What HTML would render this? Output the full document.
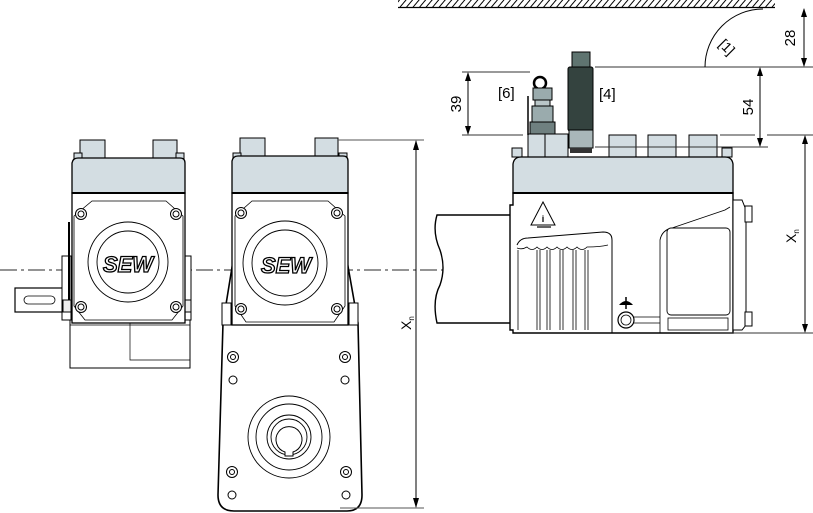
<!DOCTYPE html>
<html><head><meta charset="utf-8"><style>
html,body{margin:0;padding:0;background:#fff;}
svg{display:block;}
text{font-family:"Liberation Sans",sans-serif;fill:#000;}
</style></head><body>
<svg width="813" height="513" viewBox="0 0 813 513" xmlns="http://www.w3.org/2000/svg">
<defs>
<pattern id="h" width="5" height="10" patternUnits="userSpaceOnUse" patternTransform="rotate(40)">
<line x1="1" y1="0" x2="1" y2="10" stroke="#000" stroke-width="1"/>
</pattern>
</defs>

<!-- ceiling hatch -->
<rect x="398" y="0" width="377" height="7" fill="url(#h)"/>
<line x1="398" y1="7.5" x2="775" y2="7.5" stroke="#000" stroke-width="1.2"/>

<!-- center line -->
<g stroke="#555" stroke-width="1.2" stroke-dasharray="17,4,3,4" fill="none">
<line x1="0" y1="270" x2="500" y2="270"/>
</g>

<!-- ================= LEFT DEVICE ================= -->
<g stroke="#000" stroke-width="1" fill="#fff">
<!-- lower section -->
<rect x="70" y="318" width="120" height="50" />
<polyline points="130,322 130,360 190,360" fill="none" stroke-width="0.7"/>
<line x1="70" y1="325" x2="190" y2="325" stroke-width="0.7"/>
<!-- shaft -->
<rect x="15" y="288" width="48" height="24" stroke-width="1.2"/>
<rect x="24" y="296" width="31" height="8" rx="4" stroke-width="0.8"/>
<!-- side flanges -->
<rect x="62" y="256" width="9" height="64"/>
<rect x="185" y="256" width="6" height="64"/>
<rect x="63" y="300" width="8" height="12" fill="#eee"/>
<rect x="185" y="300" width="6" height="12" fill="#eee"/>
<line x1="69" y1="222" x2="69" y2="300" stroke-width="2"/>
<!-- body -->
<rect x="72" y="193" width="113" height="130" stroke-width="1.3"/>
<path d="M92,201 L166,201 L183,216 L183,306 L172,320 L85,320 L74,306 L74,216 Z" fill="none" stroke-width="0.8"/>
<!-- bolts -->
<circle cx="81" cy="214" r="5.5"/><circle cx="81" cy="214" r="3" fill="#fff"/>
<circle cx="176" cy="214" r="5.5"/><circle cx="176" cy="214" r="3"/>
<circle cx="81" cy="307" r="5.5"/><circle cx="81" cy="307" r="3"/>
<circle cx="176" cy="307" r="5.5"/><circle cx="176" cy="307" r="3"/>
<!-- circles -->
<circle cx="128" cy="262" r="40" stroke-width="0.9"/>
<circle cx="128" cy="262" r="31" stroke-width="0.9"/>
<!-- top blocks -->
<rect x="80" y="140" width="25" height="20" fill="#d3dde2"/>
<rect x="153" y="140" width="24" height="20" fill="#d3dde2"/>
<rect x="74" y="153" width="8" height="6" fill="#d3dde2"/>
<rect x="176" y="153" width="8" height="6" fill="#d3dde2"/>
<!-- cover -->
<path d="M72,193 L72,163 Q73,158 78,158 L180,158 Q185,158 185,163 L185,193 Z" fill="#d3dde2" stroke-width="1.3"/>
<line x1="72" y1="193" x2="185" y2="193" stroke-width="2"/>
</g>
<text x="128" y="272" font-size="22" font-weight="bold" font-style="italic" text-anchor="middle" fill="#fff" stroke="#000" stroke-width="1.3" style="fill:#fff">SEW</text>

<!-- ================= MIDDLE DEVICE ================= -->
<g stroke="#000" stroke-width="1" fill="#fff">
<!-- lower housing -->
<path d="M234,255 L223,323 L218,495 Q218,511 234,511 L347,511 Q362,511 362,495 L358,323 L346,255 Z" stroke-width="1.6"/>
<rect x="222" y="303" width="9" height="22"/>
<rect x="349" y="303" width="9" height="22"/>
<!-- holes -->
<circle cx="233" cy="357" r="5.5"/><circle cx="233" cy="357" r="2.5"/>
<circle cx="233" cy="380" r="4"/>
<circle cx="345" cy="357" r="5.5"/><circle cx="345" cy="357" r="2.5"/>
<circle cx="345" cy="380" r="4"/>
<circle cx="232" cy="472" r="5.5"/><circle cx="232" cy="472" r="2.5"/>
<circle cx="232" cy="495" r="4"/>
<circle cx="346" cy="472" r="5.5"/><circle cx="346" cy="472" r="2.5"/>
<circle cx="346" cy="495" r="4"/>
<!-- output circles -->
<circle cx="289" cy="437" r="41" stroke-width="0.9"/>
<circle cx="289" cy="437" r="33" stroke-width="0.9"/>
<circle cx="289" cy="437" r="22" stroke-width="0.9"/>
<circle cx="289" cy="437" r="18" stroke-width="0.9"/>
<path d="M285,452 A13,13 0 1 1 293,452 L293,456 L285,456 Z" stroke-width="1"/>
<!-- body -->
<rect x="232" y="193" width="116" height="132" stroke-width="1.3"/>
<path d="M252,201 L328,201 L345,216 L345,306 L334,322 L246,322 L235,306 L235,216 Z" fill="none" stroke-width="0.8"/>
<circle cx="241" cy="213" r="5.5"/><circle cx="241" cy="213" r="3"/>
<circle cx="337" cy="213" r="5.5"/><circle cx="337" cy="213" r="3"/>
<circle cx="241" cy="309" r="5.5"/><circle cx="241" cy="309" r="3"/>
<circle cx="337" cy="309" r="5.5"/><circle cx="337" cy="309" r="3"/>
<circle cx="285" cy="263" r="42" stroke-width="0.9"/>
<circle cx="285" cy="263" r="33" stroke-width="0.9"/>
<!-- top blocks -->
<rect x="240" y="138" width="25" height="22" fill="#d3dde2"/>
<rect x="315" y="138" width="23" height="22" fill="#d3dde2"/>
<rect x="233" y="153" width="8" height="6" fill="#d3dde2"/>
<rect x="339" y="153" width="8" height="6" fill="#d3dde2"/>
<path d="M232,193 L232,161 Q233,156 238,156 L343,156 Q348,156 348,161 L348,193 Z" fill="#d3dde2" stroke-width="1.3"/>
<line x1="232" y1="193" x2="348" y2="193" stroke-width="2"/>
</g>
<text x="286" y="273" font-size="22" font-weight="bold" font-style="italic" text-anchor="middle" stroke="#000" stroke-width="1.3" style="fill:#fff">SEW</text>

<!-- middle Xn dimension -->
<g stroke="#000" stroke-width="1">
<line x1="338" y1="140" x2="424" y2="140" stroke="#555"/>
<line x1="340" y1="508" x2="424" y2="508" stroke="#555"/>
<line x1="416" y1="141" x2="416" y2="507"/>
</g>
<polygon points="416,140 413,150 419,150" fill="#000"/>
<polygon points="416,508 413,498 419,498" fill="#000"/>
<text transform="translate(411,330) rotate(-90)" font-size="14">X<tspan font-size="8" dy="3">n</tspan></text>

<!-- ================= RIGHT DEVICE ================= -->
<g stroke="#000" stroke-width="1" fill="#fff">
<!-- shaft cylinder -->
<path d="M437,215 L512,215 L512,323 L437,323 Q432,300 440,285 Q446,268 440,250 Q432,232 437,215 Z" stroke-width="1.4"/>
<!-- body -->
<path d="M510,205 L513,205 L513,193 L733,193 L733,333 L513,333 L513,330 L510,330 Z" stroke-width="1.4"/>
<!-- end cap -->
<path d="M733,200 L742,200 L746,210 L746,325 L742,330 L733,330 Z"/>
<rect x="745" y="206" width="7" height="16"/>
<rect x="745" y="312" width="7" height="14"/>
<!-- fins block -->
<path d="M517,245 Q520,238 528,238 L603,232 Q612,232 612,240 L612,333" fill="none"/>
<path d="M517,248 Q522,250 527,247 Q532,252 537,247 Q542,252 547,247 Q552,252 557,247 Q562,252 567,247 Q572,252 577,247 Q582,252 587,247 Q600,247 608,245" fill="none" stroke-width="0.8"/>
<g stroke-width="0.8">
<line x1="537" y1="250" x2="537" y2="330"/><line x1="540" y1="250" x2="540" y2="330"/>
<line x1="547" y1="250" x2="547" y2="330"/><line x1="550" y1="250" x2="550" y2="330"/>
<line x1="560" y1="250" x2="560" y2="330"/><line x1="563" y1="250" x2="563" y2="330"/>
<line x1="573" y1="250" x2="573" y2="330"/><line x1="576" y1="250" x2="576" y2="330"/>
<line x1="585" y1="250" x2="585" y2="330"/><line x1="588" y1="250" x2="588" y2="330"/>
<line x1="518" y1="250" x2="518" y2="330"/>
</g>
<!-- right panel -->
<path d="M660,240 Q662,230 672,228 L725,210 L730,207" fill="none" stroke-width="0.9"/>
<rect x="667" y="228" width="63" height="87" rx="4" stroke-width="0.9"/>
<line x1="660" y1="240" x2="660" y2="333" stroke-width="0.8"/>
<rect x="668" y="318" width="60" height="12" stroke-width="0.8"/>
<!-- ground + plug -->
<circle cx="626" cy="320" r="8" stroke-width="1.2"/>
<circle cx="626" cy="320" r="5" stroke-width="0.8"/>
<line x1="634" y1="317" x2="660" y2="317" stroke-width="0.7"/>
<line x1="634" y1="323" x2="660" y2="323" stroke-width="0.7"/>
<!-- warning triangle -->
<path d="M543,202 L531,225 L555,225 Z" fill="none" stroke-width="1"/>
<line x1="537" y1="227" x2="551" y2="227" stroke-width="1.2"/>
<!-- top blocks -->
<rect x="528" y="134" width="40" height="23" fill="#d3dde2"/>
<line x1="545" y1="134" x2="545" y2="157"/>
<rect x="609" y="135" width="27" height="22" fill="#d3dde2"/>
<rect x="648" y="135" width="28" height="22" fill="#d3dde2"/>
<rect x="689" y="135" width="28" height="22" fill="#d3dde2"/>
<rect x="512" y="148" width="10" height="9" fill="#d3dde2"/>
<rect x="722" y="148" width="10" height="9" fill="#d3dde2"/>
<!-- cover -->
<path d="M513,193 L513,164 Q514,157 521,157 L725,157 Q732,157 733,164 L733,193 Z" fill="#d3dde2" stroke-width="1.3"/>
<line x1="513" y1="193" x2="733" y2="193" stroke-width="2"/>
</g>
<path d="M619,305 Q626,297 633,305 Z" fill="#000"/>
<line x1="626" y1="297" x2="626" y2="309" stroke="#000" stroke-width="1.5"/>
<text x="543" y="222" font-size="9" text-anchor="middle" font-weight="bold">i</text>

<!-- connector [4] -->
<rect x="572" y="52" width="18" height="16" fill="#5f7470" stroke="#000"/>
<rect x="568" y="67" width="25" height="64" rx="2" fill="#34433f" stroke="#000"/>
<rect x="569" y="130" width="24" height="18" fill="#a9b7b9" stroke="#000"/>
<rect x="570" y="148" width="22" height="5" fill="#333"/>
<!-- connector [6] -->
<circle cx="540" cy="83" r="6" fill="none" stroke="#000" stroke-width="2.5"/>
<rect x="533" y="88" width="19" height="12" fill="#9aabad" stroke="#000"/>
<rect x="535" y="100" width="15" height="6" fill="#b9c6c8" stroke="#000"/>
<rect x="532" y="106" width="21" height="16" fill="#9aabad" stroke="#000"/>
<rect x="530" y="122" width="25" height="12" fill="#6f8080" stroke="#000"/>
<line x1="528" y1="96" x2="528" y2="135" stroke="#000" stroke-width="1.5"/>

<!-- dimension lines right -->
<g stroke="#000" stroke-width="1">
<line x1="595" y1="67" x2="813" y2="67" stroke="#333"/>
<line x1="595" y1="147" x2="768" y2="147" stroke="#333"/>
<line x1="720" y1="135" x2="755" y2="135" stroke="#333"/>
<line x1="767" y1="135" x2="813" y2="135" stroke="#333"/>
<line x1="462" y1="72" x2="530" y2="72" stroke="#333"/>
<line x1="462" y1="135" x2="523" y2="135" stroke="#333"/>
<line x1="700" y1="333" x2="813" y2="333" stroke="#333"/>
<line x1="804" y1="9" x2="804" y2="66"/>
<line x1="760" y1="68" x2="760" y2="146"/>
<line x1="468" y1="73" x2="468" y2="134"/>
<line x1="805" y1="136" x2="805" y2="332"/>
<path d="M705,67 A58,58 0 0 1 763,9" fill="none"/>
</g>
<g fill="#000">
<polygon points="804,8 801,17 807,17"/><polygon points="804,67 801,58 807,58"/>
<polygon points="760,67 757,76 763,76"/><polygon points="760,147 757,138 763,138"/>
<polygon points="468,72 465,81 471,81"/><polygon points="468,135 465,126 471,126"/>
<polygon points="805,135 802,144 808,144"/><polygon points="805,333 802,324 808,324"/>
</g>
<text transform="translate(795,38) rotate(-90)" font-size="15" text-anchor="middle">28</text>
<text transform="translate(753,107) rotate(-90)" font-size="15" text-anchor="middle">54</text>
<text transform="translate(461,104) rotate(-90)" font-size="15" text-anchor="middle">39</text>
<text x="498" y="98" font-size="15">[6]</text>
<text x="599" y="99" font-size="15">[4]</text>
<text transform="translate(718,45) rotate(45)" font-size="14">[1]</text>
<text transform="translate(796,243) rotate(-90)" font-size="14">X<tspan font-size="8" dy="3">n</tspan></text>
</svg>
</body></html>
